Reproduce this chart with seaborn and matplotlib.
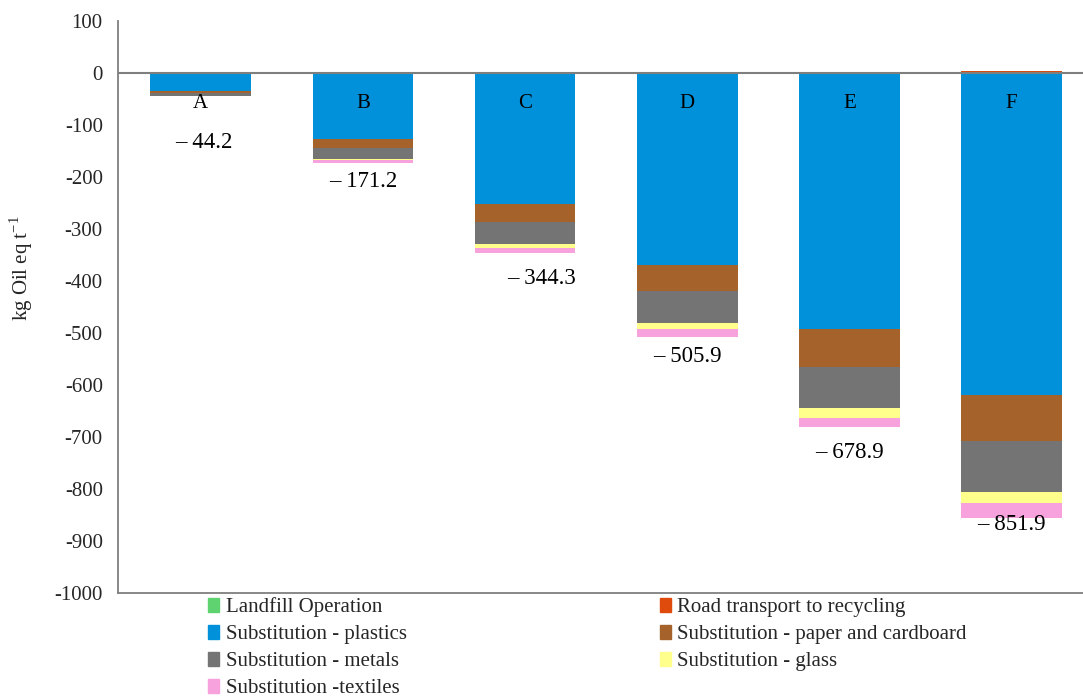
import numpy as np
import pandas as pd
import matplotlib
matplotlib.use('Agg')
import matplotlib.pyplot as plt
import seaborn as sns
from matplotlib.patches import Patch

# scenarios and contributions (kg Oil eq per t)
scenarios = ['A', 'B', 'C', 'D', 'E', 'F']
landfill = [0.5, 0.8, 1.0, 1.0, 1.2, 1.5]
road_transport = [0.3, 1.0, 1.2, 1.1, 1.4, 1.6]
sub_plastics = [-34.5, -127.0, -252.0, -369.0, -493.0, -619.0]
sub_paper = [-4.5, -18.0, -35.0, -51.0, -72.0, -89.0]
sub_metals = [-4.5, -20.0, -42.0, -60.0, -79.0, -98.0]
sub_glass = [-0.5, -3.0, -8.0, -13.0, -18.5, -21.0]
sub_textiles = [-1.0, -5.0, -9.5, -15.0, -19.0, -28.0]
totals = [-44.2, -171.2, -344.3, -505.9, -678.9, -851.9]

# manual placement of the total labels (like the original data labels)
label_drop = [-89, -37, -50, -40, -50, -17]
label_shift = [0.02, 0.0, 0.1, 0.0, 0.0, 0.0]

layers = [
    ('Landfill Operation', landfill, '#5fd36f'),
    ('Road transport to recycling', road_transport, '#de4b0c'),
    ('Substitution - plastics', sub_plastics, '#0091da'),
    ('Substitution - paper and cardboard', sub_paper, '#a5622b'),
    ('Substitution - metals', sub_metals, '#747474'),
    ('Substitution - glass', sub_glass, '#ffff8c'),
    ('Substitution -textiles', sub_textiles, '#f7a1dd'),
]

sns.set_style('white')
plt.rcParams['font.family'] = ['Liberation Serif', 'DejaVu Serif']
plt.rcParams['axes.unicode_minus'] = False

fig = plt.figure(figsize=(10.83, 6.97), dpi=100)
ax = fig.add_axes([0.109, 0.149, 0.891, 0.821])

pos_base = np.zeros(len(scenarios))
neg_base = np.zeros(len(scenarios))
for name, vals, col in layers:
    vals = np.array(vals, dtype=float)
    base = np.where(vals >= 0, pos_base, neg_base)
    sns.barplot(x=scenarios, y=vals, bottom=base, color=col, width=0.62,
                errorbar=None, linewidth=0, saturation=1, ax=ax)
    pos_base = pos_base + np.clip(vals, 0, None)
    neg_base = neg_base + np.clip(vals, None, 0)

ax.set_ylim(-1000, 100)
ax.set_xlim(-0.51, 5.44)
ax.set_yticks(np.arange(-1000, 101, 100))
ax.tick_params(axis='y', labelsize=15, length=5, color='#7f7f7f', direction='out', pad=6)
ax.tick_params(axis='x', bottom=False, labelbottom=False)
ax.set_xlabel('')
ax.set_ylabel('kg Oil eq t$^{\\mathregular{-1}}$', fontsize=15)
ax.yaxis.set_label_coords(-0.086, 0.568)

for s in ['top', 'right']:
    ax.spines[s].set_visible(False)
for s in ['left', 'bottom']:
    ax.spines[s].set_color('#7f7f7f')
    ax.spines[s].set_linewidth(1.3)
ax.axhline(0, color='#7f7f7f', lw=1.5, zorder=3)

for i, sc in enumerate(scenarios):
    ax.text(i, -58, sc, ha='center', va='center', fontsize=15, color='black')
    ax.text(i + label_shift[i], totals[i] + label_drop[i],
            '\u2013 ' + f'{abs(totals[i]):.1f}',
            ha='center', va='center', fontsize=16.5, color='black')

handles = [Patch(color=c) for _, _, c in layers]
names = [n for n, _, _ in layers]
order = [0, 2, 4, 6, 1, 3, 5]
fig.legend([handles[k] for k in order], [names[k] for k in order],
           loc='upper left', bbox_to_anchor=(0.192, 0.143), ncol=2,
           frameon=False, fontsize=15, handlelength=0.55, handleheight=0.7,
           handletextpad=0.3, labelspacing=0.36, columnspacing=12.15,
           borderaxespad=0, borderpad=0)

fig.savefig('out.png', dpi=100)
